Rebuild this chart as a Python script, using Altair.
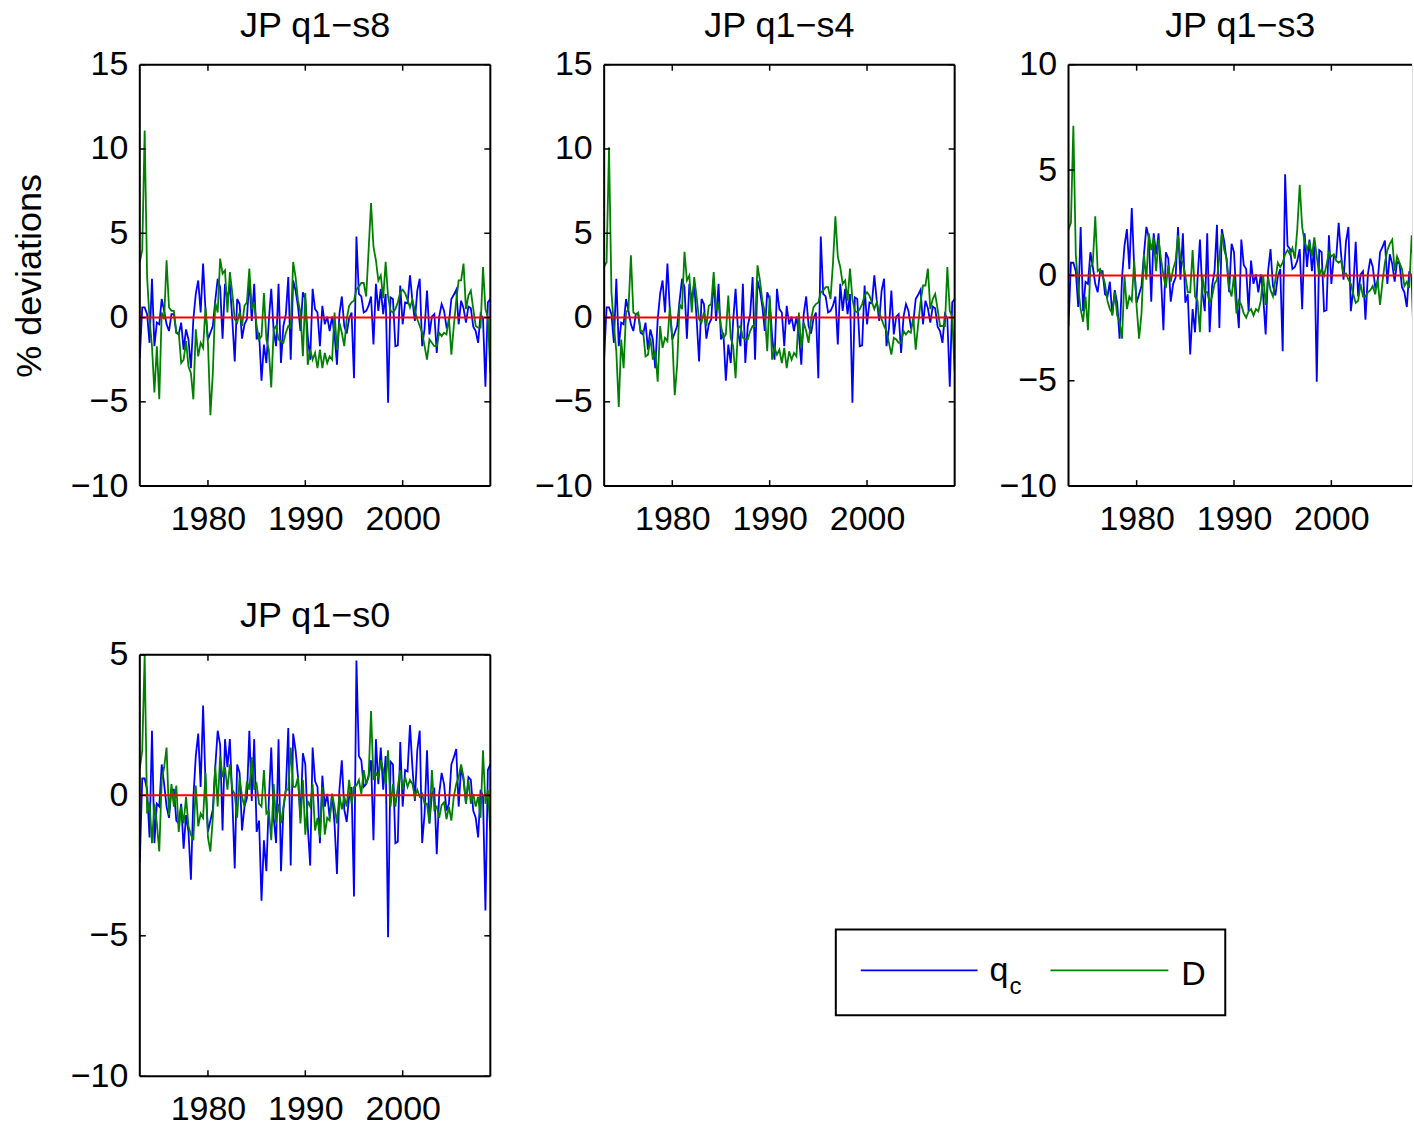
import altair as alt
import pandas as pd

FONT = "Liberation Sans"
START = 1973.0
N = 145
YEARS = [START + i / 4 for i in range(N)]
XTICKS = [1980, 1990, 2000]

QC = [-2.4, 0.6, 0.6, 0.2, -1.5, 2.3, -1.7, -0.3, -0.4, 1.1, 0.4, -0.4, -0.8, 0.2, 0.2, -0.9, -1.0, -0.3, -1.9, -0.7,
      -1.3, -3.0, -0.1, 1.4, 2.2, 0.3, 3.2, 0.4, -1.3, -0.9, -0.5, 1.0, 2.3, 1.8, -1.25, 2.0, 1.0, 2.0, -0.1, -2.6,
      1.1, 0.8, -1.25, -0.4, -0.1, 2.3, -0.2, 2.0, -1.3, -0.9, -3.75, -1.6, -2.7, -0.2, 1.7, -0.8, -1.7, 2.0, -2.7, -0.5,
      0.2, 2.4, -2.5, 2.2, 1.6, 0.65, -0.8, 1.5, 1.1, -1.1, -2.5, 1.7, 0.5, 0.3, -1.7, 0.7, -0.4, 0.05, -0.8, 0.05,
      -1.0, -2.8, 0.2, 1.25, -0.5, -0.95, -0.05, 0.3, -3.6, 4.8, 1.4, 1.25, 0.3, 0.4, 0.7, 1.25, -1.6, 2.0, 0.4, 1.7,
      0.2, 1.4, -5.05, 1.2, 1.1, -1.7, -1.65, 1.9, -0.4, 0.9, 0.85, 2.5, 1.0, -0.2, 1.6, 2.3, -1.7, -0.65, 1.6, -1.0,
      0.05, 0.2, -2.1, 0.05, 0.8, 0.4, -0.55, -0.3, 1.1, 1.35, 1.65, -0.4, 1.0, 0.55, -0.3, 0.65, 0.55, -0.55, -0.8, -1.5,
      0.2, -0.05, -4.1, 0.9, 1.1]

D_S8 = [3.3, 4.0, 11.1, 2.4, -0.1, -1.7, -4.45, -1.7, -4.85, 0.3, -0.1, 3.4, 0.6, 0.4, 0.4, -0.9, -0.9, -2.7, -2.5, -1.4,
        -2.9, -3.3, -4.85, -0.7, -2.3, -1.5, -1.8, 0.6, -1.5, -5.8, -3.3, 0.9, 0.3, 3.5, 2.6, 2.8, 0.3, 2.7, 1.45, -0.1,
        -0.3, 0.3, -0.5, 0.7, 0.9, 2.9, 0.5, 0.9, -0.5, -1.3, -1.1, 1.45, -1.3, -1.9, -4.15, -0.7, -0.5, -1.3, -1.4, -1.5,
        -0.9, -0.5, -0.6, 3.3, 2.4, 1.0, 0.3, -2.3, 1.45, -2.8, -1.9, -2.5, -2.1, -3.0, -1.9, -3.0, -2.1, -2.7, -2.3, -2.5,
        0.3, -1.9, -0.3, -0.9, -1.7, -0.1, 0.7, 0.9, 1.0, 1.65, 1.85, 2.05, 2.05, 1.25, 4.0, 6.8, 4.2, 3.4, 2.2, 2.5,
        1.15, 3.3, 1.25, 0.4, 0.3, 0.5, 0.9, 1.5, 1.65, 1.45, 1.05, 0.6, 1.05, 0.4, -0.1, -0.5, -0.9, -1.7, -2.5, -1.3,
        -1.5, -1.7, -1.7, -0.9, -1.1, -0.9, -1.0, 0.0, -2.2, -0.5, 1.0, 2.2, 2.2, 3.2, 0.5, 1.3, 1.6, 0.5, -0.5, -0.6,
        -0.6, 3.0, 0.5, 0.0, -3.3]

D_S4 = [3.0, 3.3, 10.1, 1.5, -0.5, -2.0, -5.3, -1.3, -3.0, 0.3,
        0.5, 3.7, 0.3, 0.2, 0.3, -0.8, -0.8, -2.3, -2.2, -1.2,
        -2.5, -2.0, -3.8, -0.5, -1.8, -1.2, -1.4, 0.6, -1.2, -4.6,
        -2.8, 0.8, 0.5, 3.9, 2.2, 2.5, 0.3, 2.4, 1.2, -0.1,
        -0.3, 0.3, -0.5, 0.7, 0.8, 2.7, 0.5, 0.8, -0.5, -1.2,
        -1.0, 1.3, -1.2, -1.7, -3.6, -0.6, -0.5, -1.2, -1.3, -1.3,
        -0.8, -0.5, -0.5, 3.1, 2.2, 1.0, 0.3, -2.0, 1.3, -2.5,
        -1.8, -2.2, -1.9, -2.7, -1.8, -3.0, -2.0, -2.5, -2.1, -2.3,
        0.3, -1.8, -0.3, -0.8, -1.5, -0.1, 0.6, 0.8, 0.9, 1.5,
        1.6, 1.8, 1.8, 1.1, 3.2, 6.0, 3.6, 3.0, 2.0, 2.2,
        1.0, 2.9, 1.1, 0.4, 0.3, 0.5, 0.8, 1.3, 1.5, 1.3,
        0.9, 0.5, 0.9, 0.3, -0.1, -0.5, -0.8, -1.5, -2.2, -1.2,
        -1.3, -1.5, -1.5, -0.8, -1.0, -0.8, -0.9, 0.0, -1.9, -0.4,
        0.9, 1.9, 1.9, 2.9, 0.5, 1.1, 1.4, 0.5, -0.5, -0.5,
        -0.5, 3.0, 0.4, 0.0, -3.2]

D_S3 = [2.2, 2.5, 7.1, 1.0, -0.6, -1.6, -2.2, -1.0, -2.6, 0.4,
        0.6, 2.8, 0.2, 0.3, 0.0, -0.4, -1.2, -1.6, -1.8, -0.8,
        -1.9, -2.2, -3.0, 0.0, -1.6, -1.0, -1.2, 0.7, -1.5, -3.0,
        -1.8, 1.0, -0.2, 2.0, 1.2, 1.8, 0.2, 1.7, 0.8, 0.0,
        -0.6, 0.5, -0.3, 0.3, 0.7, 1.9, 0.8, 0.6, 0.0, -0.8,
        -0.8, 1.2, -1.0, -1.2, -2.7, 0.0, -0.8, -0.8, -1.3, -1.0,
        -0.4, -0.2, 0.9, 2.0, 1.2, 0.8, -0.6, -1.0, 0.0, -1.8,
        -1.2, -1.4, -1.8, -2.0, -1.7, -1.6, -1.9, -1.6, -1.7, -1.2,
        0.0, -1.4, -0.1, -0.7, -1.0, -0.2, 0.6, 0.4, 0.6, 1.0,
        1.2, 1.0, 1.3, 0.8, 2.2, 4.3, 2.3, 1.6, 1.2, 1.6,
        0.9, 1.8, 0.9, 0.0, 0.3, 0.0, 0.5, 1.1, 0.9, 1.0,
        0.7, 0.6, 0.7, 0.1, 0.1, -0.2, -0.4, -0.9, -1.3, -1.2,
        -0.4, -1.0, -1.0, -0.8, -0.7, -0.5, -0.9, -0.2, -1.4, -0.3,
        0.6, 1.2, 1.5, 1.7, 0.2, 0.9, 0.6, 0.3, -0.5, -0.3,
        -0.6, 1.9, 0.1, 0.1, -1.8]

D_S0 = [0.95, 1.6, 5.0, -0.65, -0.25, -1.7, -0.3, -1.0, -2.0, 0.55, 1.0, 1.7, -0.7, 0.4, -0.4, 0.35, -1.3, -0.4, -1.0, -0.05,
        -1.1, -1.4, -1.6, 0.35, -1.1, -0.65, -0.8, 0.8, -1.5, -2.0, -0.8, 1.05, -0.4, 1.4, 0.65, 1.0, 0.2, 1.1, 0.2, 0.05,
        -0.8, 0.65, -0.05, -0.4, 0.5, 0.2, 1.35, 0.2, 0.4, -0.3, -0.4, 0.9, -0.65, -0.55, -1.6, 0.4, -1.0, -0.3, -1.0, -0.4,
        0.2, 0.2, 1.7, 0.3, 0.3, 0.65, -1.0, 0.55, -1.4, -0.2, -0.4, 0.4, -1.25, -0.8, -1.5, 0.3, -1.4, -0.8, -0.9, 0.05,
        -0.4, -1.0, 0.05, -0.5, -0.05, -0.4, 0.55, -0.3, 0.3, 0.35, 0.55, 0.05, 0.9, 0.4, 0.65, 3.0, 0.55, 0.8, 0.65, 1.25,
        0.9, 0.4, 1.6, -0.4, 0.4, -0.4, 0.3, 0.9, 0.2, 0.65, 0.3, 0.55, 0.4, -0.05, 0.2, -0.05, 0.05, -0.3, -0.3, -1.0,
        0.9, -0.5, -0.4, -0.8, -0.35, -0.25, -0.85, -0.4, -0.9, -0.05, 0.4, 0.65, 1.1, 0.65, -0.3, 0.55, -0.3, 0.05, -0.4, -0.05,
        -0.8, 1.6, -0.3, 0.2, -1.25]

TITLES = ["JP q1\u2212s8", "JP q1\u2212s4", "JP q1\u2212s3", "JP q1\u2212s0"]
YDOMS = [[-10, 15], [-10, 15], [-10, 10], [-10, 5]]
YTICKS = [[-10, -5, 0, 5, 10, 15], [-10, -5, 0, 5, 10, 15], [-10, -5, 0, 5, 10], [-10, -5, 0, 5]]
LEGEND_LABELS = ["q", "c", "D"]
BLUE, GREEN, RED = "#0000ff", "#008000", "#ff0000"

FS = 34
TFS = 36
W, H = 351, 422
TL = 6
LWID = 1.8


def panel(title, dvals, ydom, yticks, width=W, xmax=2009.0, ytitle=None, right_side=True):
    df = pd.DataFrame({"year": YEARS, "qc": QC, "D": dvals})
    xs = alt.Scale(domain=[START, xmax], nice=False, zero=False)
    ys = alt.Scale(domain=ydom, nice=False, zero=False)
    xax = alt.Axis(values=XTICKS, format="d", ticks=False, domain=False, grid=False,
                   labelFontSize=FS, labelFont=FONT, labelColor="black", labelPadding=16,
                   labelFlush=False, labelOverlap=False)
    yax = alt.Axis(values=yticks, ticks=False, domain=False, grid=False,
                   labelFontSize=FS, labelFont=FONT, labelColor="black", labelPadding=12,
                   labelFlush=False, labelOverlap=False,
                   titleFontSize=TFS, titleFont=FONT, titleFontWeight="normal", titleColor="black",
                   titlePadding=22)

    def X(f):
        return alt.X(f, scale=xs, axis=xax, title=None)

    def Y(f):
        return alt.Y(f, scale=ys, axis=yax, title=ytitle)

    blue = alt.Chart(df).mark_line(color=BLUE, strokeWidth=LWID, clip=True).encode(x=X("year:Q"), y=Y("qc:Q"))
    green = alt.Chart(df).mark_line(color=GREEN, strokeWidth=LWID, clip=True).encode(x=X("year:Q"), y=Y("D:Q"))
    zero = alt.Chart(pd.DataFrame({"z": [0]})).mark_rule(color=RED, strokeWidth=2).encode(y=Y("z:Q"))

    xtdf = pd.DataFrame({"t": XTICKS})
    ytdf = pd.DataFrame({"t": yticks})
    bt = alt.Chart(xtdf).mark_rule(color="black", strokeWidth=1.5).encode(
        x=X("t:Q"), y=alt.value(H), y2=alt.value(H - TL))
    tt = alt.Chart(xtdf).mark_rule(color="black", strokeWidth=1.5).encode(
        x=X("t:Q"), y=alt.value(0), y2=alt.value(TL))
    lt = alt.Chart(ytdf).mark_rule(color="black", strokeWidth=1.5).encode(
        y=Y("t:Q"), x=alt.value(0), x2=alt.value(TL))
    layers = [blue, green, zero, bt, tt, lt]
    bdf = pd.DataFrame({"b": [0]})
    border = alt.Chart(bdf).mark_rule(color="black", strokeWidth=2)
    layers += [
        border.encode(x=alt.value(0), y=alt.value(0), y2=alt.value(H)),
        border.encode(x=alt.value(0), x2=alt.value(width), y=alt.value(0)),
        border.encode(x=alt.value(0), x2=alt.value(width), y=alt.value(H)),
    ]
    if right_side:
        rt = alt.Chart(ytdf).mark_rule(color="black", strokeWidth=1.5).encode(
            y=Y("t:Q"), x=alt.value(width - TL), x2=alt.value(width))
        layers += [rt, border.encode(x=alt.value(width), y=alt.value(0), y2=alt.value(H))]
    return alt.layer(*layers).properties(
        width=width, height=H,
        title=alt.TitleParams(title, fontSize=TFS, font=FONT, fontWeight="normal", color="black",
                              anchor="middle", offset=3))


p1 = panel(TITLES[0], D_S8, YDOMS[0], YTICKS[0], ytitle="% deviations")
p2 = panel(TITLES[1], D_S4, YDOMS[1], YTICKS[1])
W3 = 344
p3 = panel(TITLES[2], D_S3, YDOMS[2], YTICKS[2], width=W3, xmax=START + 36.0 * W3 / W, right_side=False)
p4 = panel(TITLES[3], D_S0, YDOMS[3], YTICKS[3])

# legend box
LW = 390
ldf = pd.DataFrame({"a": [0]})
lbase = alt.Chart(ldf)
legend = alt.layer(
    lbase.mark_rect(fill="white", stroke="black", strokeWidth=2).encode(
        x=alt.value(0), x2=alt.value(LW), y=alt.value(275), y2=alt.value(361)),
    lbase.mark_rule(color=BLUE, strokeWidth=1.7).encode(x=alt.value(25), x2=alt.value(142), y=alt.value(316)),
    lbase.mark_rule(color=GREEN, strokeWidth=1.7).encode(x=alt.value(215), x2=alt.value(333), y=alt.value(316)),
    lbase.mark_text(text=LEGEND_LABELS[0], fontSize=FS, font=FONT, align="left", baseline="alphabetic", color="black").encode(
        x=alt.value(154), y=alt.value(327)),
    lbase.mark_text(text=LEGEND_LABELS[1], fontSize=24, font=FONT, align="left", baseline="alphabetic", color="black").encode(
        x=alt.value(174), y=alt.value(340)),
    lbase.mark_text(text=LEGEND_LABELS[2], fontSize=FS, font=FONT, align="left", baseline="alphabetic", color="black").encode(
        x=alt.value(346), y=alt.value(331)),
).properties(width=LW, height=H, view=alt.ViewBackground(stroke="transparent", strokeWidth=0))

row1 = alt.hconcat(p1, p2, p3, spacing=114, bounds="flush")
row2 = alt.hconcat(p4, legend, spacing=346, bounds="flush")
chart = alt.vconcat(row1, row2, spacing=60).properties(
    padding={"left": 10, "top": 6, "right": 0, "bottom": 0}
).configure_view(stroke="transparent", strokeWidth=0).configure(font=FONT)

chart.save("out.html", embed_options={"renderer": "svg", "actions": False})
